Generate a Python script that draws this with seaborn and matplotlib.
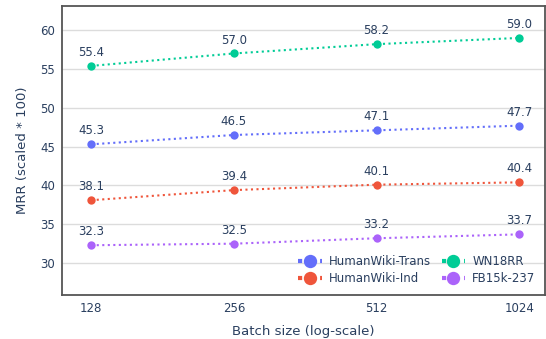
import numpy as np
import pandas as pd
import matplotlib
matplotlib.use("Agg")
import matplotlib.pyplot as plt
import seaborn as sns

# data
batch_sizes = [128, 256, 512, 1024]
datasets = ["HumanWiki-Trans", "HumanWiki-Ind", "WN18RR", "FB15k-237"]
mrr_trans = [45.3, 46.5, 47.1, 47.7]
mrr_ind = [38.1, 39.4, 40.1, 40.4]
mrr_wn18rr = [55.4, 57.0, 58.2, 59.0]
mrr_fb15k = [32.3, 32.5, 33.2, 33.7]

colors = ["#636EFA", "#EF553B", "#00CC96", "#AB63FA"]
text_col = "#2a3f5f"

rows = []
for name, vals in zip(datasets, [mrr_trans, mrr_ind, mrr_wn18rr, mrr_fb15k]):
    for b, v in zip(batch_sizes, vals):
        rows.append({"batch": b, "mrr": v, "dataset": name})
df = pd.DataFrame(rows)

sns.set_style("white")
plt.rcParams["font.family"] = ["DejaVu Sans"]

fig, ax = plt.subplots(figsize=(5.46, 3.39), dpi=100)
fig.subplots_adjust(left=0.114, right=0.998, top=0.982, bottom=0.13)

sns.lineplot(data=df, x="batch", y="mrr", hue="dataset", hue_order=datasets,
             palette=colors, marker="o", markersize=6, markeredgewidth=0,
             linestyle=":", linewidth=1.5, ax=ax)

for name, col in zip(datasets, colors):
    sub = df[df.dataset == name]
    for b, v in zip(sub.batch, sub.mrr):
        ax.annotate(f"{v:.1f}", (b, v), xytext=(0, 5), textcoords="offset points",
                    ha="center", va="bottom", fontsize=8.5, color=text_col)

ax.set_xscale("log", base=2)
ax.set_xlim(128 * 2 ** -0.203, 128 * 2 ** 3.18)
ax.set_ylim(25.9, 63.1)
ax.set_xticks(batch_sizes)
ax.set_xticklabels([str(b) for b in batch_sizes])
ax.minorticks_off()
ax.set_yticks([30, 35, 40, 45, 50, 55, 60])
ax.yaxis.grid(True, color="#dcdcdc", linewidth=1)
ax.set_axisbelow(True)
ax.tick_params(axis="both", length=0, labelsize=8.5, labelcolor=text_col, pad=5)
for s in ax.spines.values():
    s.set_color("#555555")
    s.set_linewidth(1.3)

ax.set_xlabel("Batch size (log-scale)", fontsize=9.5, color=text_col, labelpad=7)
ax.set_ylabel("MRR (scaled * 100)", fontsize=9.5, color=text_col, labelpad=8)

handles, labels = ax.get_legend_handles_labels()
leg = ax.legend(handles, labels, ncol=2, loc="lower right", bbox_to_anchor=(1.0, 0.0),
                frameon=False, fontsize=8.5, handlelength=2.0, columnspacing=0.9,
                handletextpad=0.6, labelspacing=0.35, borderaxespad=0.4,
                markerscale=1.6)
for t in leg.get_texts():
    t.set_color(text_col)
for h in leg.legend_handles:
    h.set_linewidth(3)

fig.savefig("out.png", dpi=100)
